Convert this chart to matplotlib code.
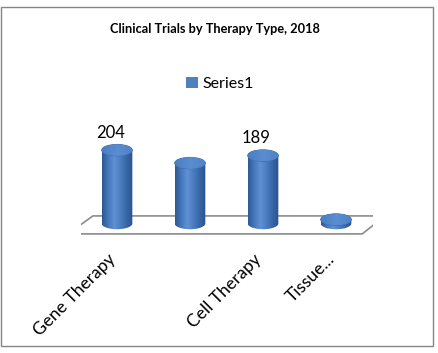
import numpy as np
import matplotlib
matplotlib.use("Agg")
import matplotlib.pyplot as plt
import matplotlib.patches as mpatches
from matplotlib.path import Path
from matplotlib.colors import LinearSegmentedColormap

plt.rcParams['font.family'] = ['Lato', 'DejaVu Sans']

# data
categories = ["Gene Therapy", "", "Cell Therapy", "Tissue..."]
values = [204, 168, 189, 11]
value_labels = ["204", "", "189", ""]
series_name = "Series1"
title = "Clinical Trials by Therapy Type, 2018"

fig = plt.figure(figsize=(4.38, 3.53), dpi=100)
ax = fig.add_axes([80.5/438, 1 - 240/353, 292/438, 110/353])
ax.axis("off")

# cylinder shading, dark edges, lighter left-of-centre
body_cmap = LinearSegmentedColormap.from_list(
    "cyl", ["#2c5792", "#4677bb", "#5f91d4", "#4a7cc0", "#3766a6", "#2a528c"])
top_cmap = LinearSegmentedColormap.from_list(
    "cyltop", ["#4a7dc2", "#5b8dd1", "#4f81c5"])

bw = 0.42    # cylinder width in x units
eh = 32      # ellipse height in y units

# floor (parallelogram under the bars)
floor = mpatches.Polygon([(-0.67, -29), (3.36, -29), (3.67, 21), (-0.33, 21)],
                         closed=True, facecolor="white", edgecolor="#8c8c8c",
                         lw=1.2, zorder=1)
ax.add_patch(floor)

grad = np.linspace(0, 1, 256).reshape(1, -1)
th = np.linspace(np.pi, 2*np.pi, 60)
for i, v in enumerate(values):
    x0, x1 = i - bw/2, i + bw/2
    ex = i + bw/2*np.cos(th)
    ey = eh/2*np.sin(th)
    verts = list(zip(ex, ey)) + [(x1, v), (x0, v), (ex[0], ey[0])]
    codes = [Path.MOVETO] + [Path.LINETO]*(len(verts) - 2) + [Path.CLOSEPOLY]
    clip = mpatches.PathPatch(Path(verts, codes), facecolor="none",
                              edgecolor="none", transform=ax.transData)
    ax.add_patch(clip)
    im = ax.imshow(grad, cmap=body_cmap, aspect="auto",
                   extent=[x0, x1, -eh, v], zorder=2)
    im.set_clip_path(clip)
    top = mpatches.Ellipse((i, v), bw, eh, facecolor="#5686c9",
                           edgecolor="#3d6aab", lw=0.6, zorder=3)
    ax.add_patch(top)
    topim = ax.imshow(grad, cmap=top_cmap, aspect="auto",
                      extent=[x0, x1, v - eh/2, v + eh/2], zorder=3)
    topim.set_clip_path(top)
    if value_labels[i]:
        ax.text(i - 0.09, v + eh/2 + 10, value_labels[i], ha="center",
                va="bottom", fontsize=12, color="#000000", zorder=4)

ax.set_xlim(-0.5, 3.5)
ax.set_ylim(-46, 260)

# category labels, rotated like the original
for i, c in enumerate(categories):
    if c:
        ax.text(i - 0.13, -76, c, rotation=45, rotation_mode="anchor",
                ha="right", va="top", fontsize=12.5, color="#000000",
                clip_on=False)

fig.text(0.5 - 4/438, 1 - 29/353, title, ha="center", va="center",
         fontsize=9.2, fontweight="bold")

handle = mpatches.Patch(facecolor="#4f81bd", edgecolor="none", label=series_name)
fig.legend(handles=[handle], loc="center", bbox_to_anchor=(220/438, 1 - 84/353),
           frameon=False, fontsize=11.5, handlelength=0.75, handleheight=0.75,
           handletextpad=0.3)

border = mpatches.Rectangle((1/438, 1 - 346/353), 432/438, 339/353,
                            transform=fig.transFigure, facecolor="none",
                            edgecolor="#868686", lw=1.0)
fig.patches.append(border)

fig.savefig("out.png", dpi=100)
